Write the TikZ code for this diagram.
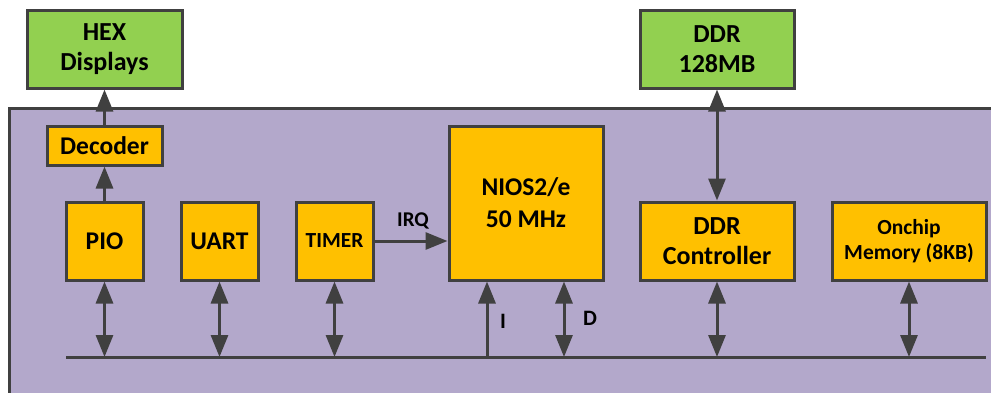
\documentclass[tikz,border=0pt]{standalone}
\usepackage{fontspec}
\setmainfont{Carlito}
\usetikzlibrary{arrows.meta}
\definecolor{lineC}{HTML}{404040}
\definecolor{purpleC}{HTML}{B3A8CB}
\definecolor{orangeC}{HTML}{FFC000}
\definecolor{greenC}{HTML}{92D050}
\tikzset{
  blk/.style={draw=lineC, line width=3pt, fill=orangeC, align=center, inner sep=0pt, font=\bfseries\fontsize{26}{30}\selectfont},
  ext/.style={blk, fill=greenC},
  conn/.style={draw=lineC, line width=3pt, -{Triangle[length=22pt,width=17pt]}},
  bconn/.style={draw=lineC, line width=3pt, {Triangle[length=22pt,width=17pt]}-{Triangle[length=22pt,width=17pt]}},
  lbl/.style={font=\bfseries\fontsize{22}{26}\selectfont, text=black, inner sep=0pt}
}
\begin{document}
\begin{tikzpicture}[x=1pt,y=-1pt]
\clip (0,0) rectangle (991,392);
\fill[white] (0,0) rectangle (991,392);
\node[draw=lineC, line width=3pt, fill=purpleC, anchor=north west, minimum width=1000pt, minimum height=400pt, inner sep=0pt] (fpga) at (8,107) {};
\node[ext, minimum width=155pt, minimum height=78pt] (hex) at (104.5,49) {HEX\\Displays};
\node[ext, minimum width=154pt, minimum height=78pt] (ddr) at (717,49) {DDR\\128MB};
\node[blk, minimum width=115pt, minimum height=39pt, font=\bfseries\fontsize{25.5}{28}\selectfont] (dec) at (104.5,145.5) {Decoder};
\node[blk, minimum width=77pt, minimum height=78pt, font=\bfseries\fontsize{25.5}{30}\selectfont] (pio) at (104.5,241) {PIO};
\node[blk, minimum width=77pt, minimum height=78pt, font=\bfseries\fontsize{25.5}{30}\selectfont] (uart) at (219.5,241) {UART};
\node[blk, minimum width=77pt, minimum height=78pt, font=\bfseries\fontsize{21.5}{24}\selectfont] (timer) at (334.5,241) {TIMER};
\node[blk, minimum width=154pt, minimum height=154pt, font=\bfseries\fontsize{25.5}{32}\selectfont] (nios) at (526,203) {NIOS2/e\\50 MHz};
\node[blk, minimum width=154pt, minimum height=78pt] (ctrl) at (717,241) {DDR\\Controller};
\node[blk, minimum width=154pt, minimum height=78pt, font=\bfseries\fontsize{21.5}{25}\selectfont] (onchip) at (909,241) {Onchip\\Memory (8KB)};
\coordinate (busL) at (66,357);
\coordinate (busR) at (986,357);
\coordinate (ibus) at (487,357);
\coordinate (dbus) at (564,357);
\draw[lineC, line width=3pt] (busL) -- (busR);
\draw[conn] (dec.north) -- (hex.south);
\draw[conn] (pio.north) -- (dec.south);
\draw[bconn] (ddr.south) -- (ctrl.north);
\draw[bconn] (pio.south) -- (pio.south |- busL);
\draw[bconn] (uart.south) -- (uart.south |- busL);
\draw[bconn] (timer.south) -- (timer.south |- busL);
\draw[bconn] (ctrl.south) -- (ctrl.south |- busL);
\draw[bconn] (onchip.south) -- (onchip.south |- busL);
\draw[conn] (ibus) -- (ibus |- nios.south);
\draw[bconn] (dbus |- nios.south) -- (dbus);
\draw[conn] (timer.east) -- (nios.west |- timer.east);
\node[lbl, font=\bfseries\fontsize{21}{24}\selectfont] (irq) at (413,221) {IRQ};
\node[lbl] (ilbl) at (503,321) {I};
\node[lbl] (dlbl) at (590,318) {D};
\end{tikzpicture}
\end{document}
